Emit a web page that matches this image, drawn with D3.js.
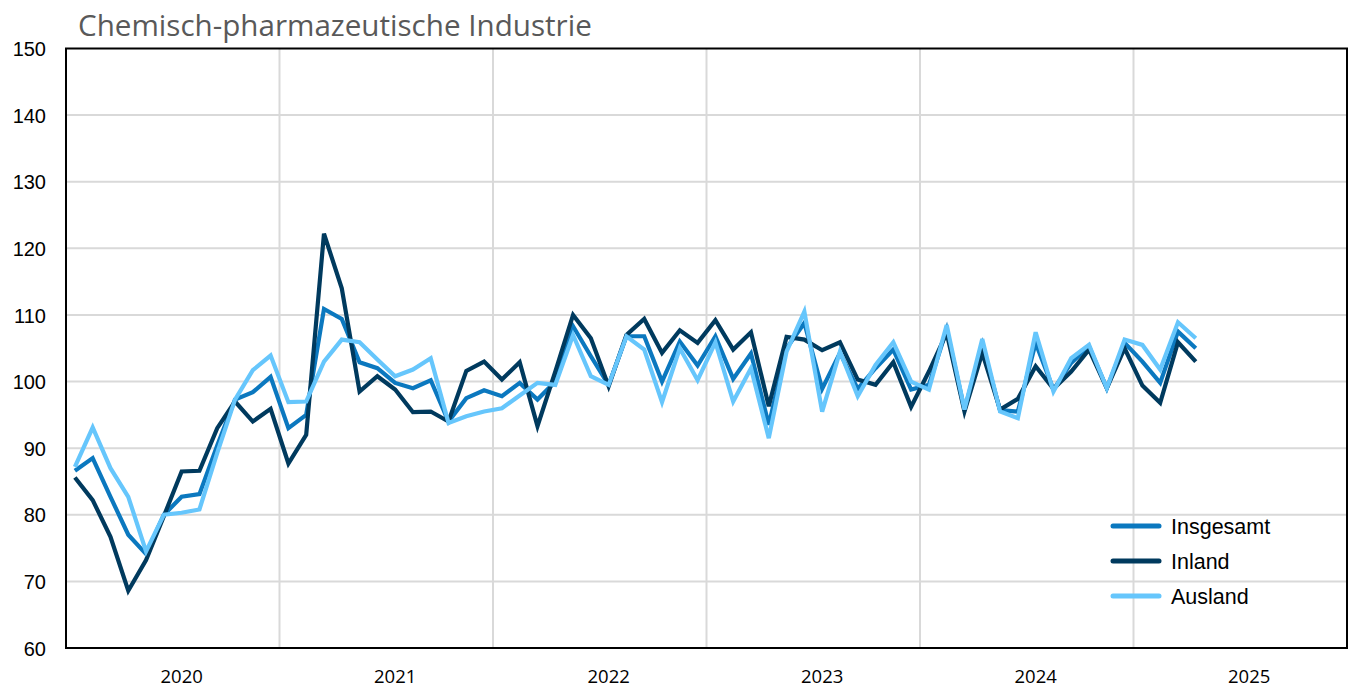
<!DOCTYPE html>
<html>
<head>
<meta charset="utf-8">
<script src="https://cdn.jsdelivr.net/npm/d3@7"></script>
<style>
  body { margin: 0; background: #fff; }
  svg { display: block; }
</style>
</head>
<body>
<div id="chart"></div>
<script>
var width = 1351;
var height = 688;

var title = "Chemisch-pharmazeutische Industrie";
var years = ["2020", "2021", "2022", "2023", "2024", "2025"];
var yTicks = [60, 70, 80, 90, 100, 110, 120, 130, 140, 150];
var seriesNames = ["Insgesamt", "Inland", "Ausland"];

// monthly index values, Jan 2020 .. Apr 2025
var insgesamt = [86.6, 88.5, 82.7, 77.0, 74.1, 80.0, 82.7, 83.1, 90.4, 97.3, 98.4, 100.7,
  93.0, 95.0, 110.9, 109.4, 102.9, 102.0, 99.8, 99.0, 100.2, 94.0, 97.5, 98.7,
  97.8, 99.8, 97.3, 100.0, 108.3, 103.8, 99.5, 106.8, 106.8, 100.0, 106.0, 102.4,
  106.8, 100.4, 104.2, 93.5, 105.0, 108.8, 98.9, 104.3, 98.9, 102.0, 104.8, 98.8,
  99.5, 107.8, 95.8, 105.5, 95.7, 95.5, 105.8, 98.8, 102.8, 105.3, 99.0, 105.8,
  103.0, 99.8, 107.5, 105.0];
var inland = [85.6, 82.2, 76.7, 68.6, 73.2, 79.8, 86.5, 86.6, 93.0, 97.0, 94.0, 95.9,
  87.7, 92.0, 122.2, 114.0, 98.5, 100.8, 98.8, 95.4, 95.5, 94.0, 101.6, 103.0,
  100.3, 102.9, 93.3, 101.5, 110.0, 106.5, 99.3, 107.0, 109.4, 104.3, 107.7, 105.8,
  109.2, 104.8, 107.4, 96.3, 106.7, 106.3, 104.7, 105.9, 100.3, 99.5, 102.9, 96.2,
  101.5, 107.3, 95.5, 104.3, 95.8, 97.4, 102.3, 98.9, 101.5, 104.8, 99.0, 105.0,
  99.4, 96.8, 105.9, 103.0];
var ausland = [87.2, 93.1, 87.0, 82.7, 74.5, 80.0, 80.3, 80.8, 89.3, 97.3, 101.7, 103.9,
  96.9, 97.0, 103.0, 106.3, 105.9, 103.3, 100.8, 101.8, 103.5, 93.8, 94.8, 95.5,
  96.0, 97.9, 99.8, 99.5, 107.0, 100.8, 99.5, 106.8, 104.8, 96.9, 105.0, 100.2,
  105.9, 97.0, 102.0, 91.5, 104.5, 110.5, 95.5, 104.5, 97.8, 102.5, 105.9, 100.0,
  98.8, 108.5, 95.8, 106.4, 95.5, 94.5, 107.4, 98.5, 103.5, 105.5, 99.0, 106.3,
  105.5, 101.8, 108.9, 106.5];

var colors = ["#0b78bf", "#003a5e", "#66c6fc"];
var series = [insgesamt, inland, ausland];

var plot = { left: 66, right: 1347, top: 48.5, bottom: 648 };
var nMonths = years.length * 12;

var svg = d3.select("#chart").append("svg").attr("width", width).attr("height", height);

// month band scale: each month is one band, points at band centre
var xscale = d3.scaleBand().domain(d3.range(nMonths)).range([plot.left, plot.right]).paddingInner(0).paddingOuter(0);
var xmid = function(i) { return xscale(i) + xscale.bandwidth() / 2; };
var yscale = d3.scaleLinear().domain([60, 150]).range([plot.bottom, plot.top]);

// horizontal grid
svg.append("g").attr("class", "ygrid")
  .selectAll("line").data(yTicks.slice(1, -1)).enter().append("line")
  .attr("x1", plot.left).attr("x2", plot.right)
  .attr("y1", function(d) { return yscale(d); }).attr("y2", function(d) { return yscale(d); })
  .attr("stroke", "#d9d9d9").attr("stroke-width", 2);

// vertical grid at year boundaries
svg.append("g").attr("class", "xgrid")
  .selectAll("line").data(d3.range(1, years.length)).enter().append("line")
  .attr("x1", function(d) { return xscale(d * 12); }).attr("x2", function(d) { return xscale(d * 12); })
  .attr("y1", plot.top).attr("y2", plot.bottom)
  .attr("stroke", "#d9d9d9").attr("stroke-width", 2);

// y axis labels
var yAxis = d3.axisLeft(yscale).tickValues(yTicks).tickSize(0).tickPadding(0);
var yg = svg.append("g").attr("transform", "translate(46,0)").call(yAxis);
yg.select(".domain").remove();
yg.selectAll("text").attr("font-family", "Liberation Sans, Arial, sans-serif")
  .attr("font-size", 20).attr("fill", "#000").attr("dy", "0.36em");

// year labels, centred on the 7th month like the original
var xg = svg.append("g").attr("class", "xlabels");
xg.selectAll("text").data(years).enter().append("text")
  .attr("x", function(d, i) { return xmid(i * 12 + 6); })
  .attr("y", 683)
  .attr("text-anchor", "middle")
  .attr("font-family", "Open Sans, sans-serif")
  .attr("font-size", 18.5)
  .attr("fill", "#000")
  .text(function(d) { return d; });

// lines
var line = d3.line().x(function(d, i) { return xmid(i); }).y(function(d) { return yscale(d); });

svg.append("g").attr("class", "series")
  .selectAll("path").data(series).enter().append("path")
  .attr("d", function(d) { return line(d); })
  .attr("fill", "none")
  .attr("stroke", function(d, i) { return colors[i]; })
  .attr("stroke-width", 4.2)
  .attr("stroke-linejoin", "miter");

// plot border
svg.append("rect")
  .attr("x", plot.left).attr("y", plot.top)
  .attr("width", plot.right - plot.left).attr("height", plot.bottom - plot.top)
  .attr("fill", "none").attr("stroke", "#000").attr("stroke-width", 2);

// legend
var legend = svg.append("g").attr("class", "legend").attr("transform", "translate(1111,526)");
var item = legend.selectAll("g").data(seriesNames).enter().append("g")
  .attr("transform", function(d, i) { return "translate(0," + (i * 35) + ")"; });
item.append("line").attr("x1", 2).attr("x2", 48).attr("y1", 0).attr("y2", 0)
  .attr("stroke", function(d, i) { return colors[i]; })
  .attr("stroke-width", 5).attr("stroke-linecap", "round");
item.append("text").attr("x", 60).attr("y", 0).attr("dy", "0.36em")
  .attr("font-family", "Liberation Sans, Arial, sans-serif")
  .attr("font-size", 21.5).attr("fill", "#000")
  .text(function(d) { return d; });

// title
var t = svg.append("text").attr("x", 78).attr("y", 36)
  .attr("font-family", "Open Sans, sans-serif")
  .attr("font-size", 28).attr("fill", "#595959")
  .text(title);
var tw = t.node().getComputedTextLength();
t.attr("font-size", 28 * 514 / tw);
</script>
</body>
</html>
